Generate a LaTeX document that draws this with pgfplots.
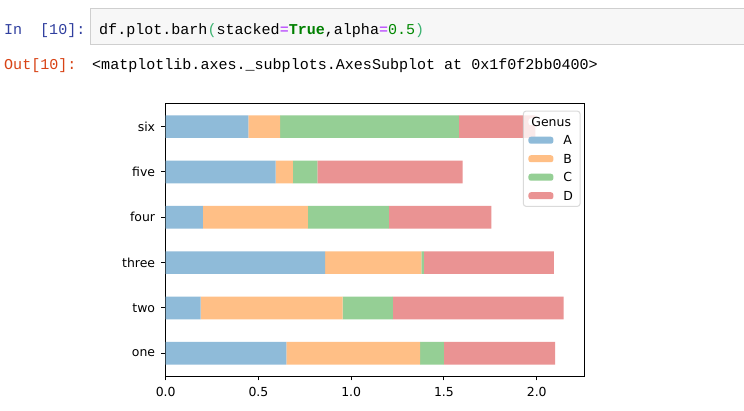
\documentclass[border=0pt]{standalone}
\usepackage{fontspec}
\usepackage{pgfplots}
\pgfplotsset{compat=1.18}
\setmainfont{DejaVu Sans}
\newfontfamily\nbmono{Liberation Mono}
\newfontfamily\dvs{DejaVu Sans}
\definecolor{cA}{HTML}{8FBBD9}
\definecolor{cB}{HTML}{FFBF86}
\definecolor{cC}{HTML}{95CF95}
\definecolor{cD}{HTML}{EA9393}
\definecolor{inprompt}{HTML}{303F9F}
\definecolor{outprompt}{HTML}{D84315}
\definecolor{kwgreen}{HTML}{008000}
\definecolor{oppurple}{HTML}{AA22FF}
\definecolor{numgreen}{HTML}{008800}
\definecolor{brgreen}{HTML}{3CB371}
\definecolor{cellbg}{HTML}{F7F7F7}
\definecolor{cellbd}{HTML}{CFCFCF}
\newcommand\nbf{\nbmono\fontsize{15.1}{18}\selectfont}
\newcommand\chf{\dvs\fontsize{12.5}{15}\selectfont}
\pgfplotsset{mylegend/.style={legend image code/.code={\fill[fill opacity=1,##1] (0bp,-3.5bp) rectangle (25bp,3.5bp);}}}
\begin{document}
\begin{tikzpicture}
\useasboundingbox (0bp,0bp) rectangle (744bp,411bp);
\fill[white] (0bp,0bp) rectangle (744bp,411bp);
\filldraw[fill=cellbg, draw=cellbd, line width=1bp] (90.5bp,402.5bp) rectangle (760bp,366bp);
\node[anchor=base west, inner sep=0pt, text=inprompt, font=\nbf] at (4bp,376bp) {In};
\node[anchor=base west, inner sep=0pt, text=inprompt, font=\nbf] at (40bp,376bp) {[10]:};
\node[anchor=base west, inner sep=0pt, text=black, font=\nbf] at (99bp,376bp) {df.plot.barh\textcolor{brgreen}{(}stacked\textcolor{oppurple}{=}\textcolor{kwgreen}{\bfseries True},alpha\textcolor{oppurple}{=}\textcolor{numgreen}{0.5}\textcolor{brgreen}{)}};
\node[anchor=base west, inner sep=0pt, text=outprompt, font=\nbf] at (4bp,341bp) {Out[10]:};
\node[anchor=base west, inner sep=0pt, text=black, font=\nbf] at (92bp,341bp) {<matplotlib.axes.\_subplots.AxesSubplot at 0x1f0f2bb0400>};
\begin{axis}[
  at={(165.7bp,35bp)}, anchor=south west,
  width=418.8bp, height=272bp, scale only axis,
  xbar stacked, bar width=0.5, bar shift=0pt,
  every axis plot post/.append style={mylegend},
  xmin=0, xmax=2.2575, ymin=-0.5, ymax=5.5,
  xtick={0,0.5,1,1.5,2}, xticklabels={0.0,0.5,1.0,1.5,2.0},
  ytick={0,1,2,3,4,5}, yticklabels={one,two,three,four,five,six},
  tick align=outside, xtick pos=left, ytick pos=left,
  major tick length=4.4bp,
  tick style={black, line width=1bp},
  axis line style={black, line width=1bp},
  tick label style={font=\chf, inner sep=0pt},
  xticklabel style={yshift=-6.5bp},
  yticklabel style={xshift=-6bp},
  legend style={at={(1,1)}, anchor=north east, xshift=-4bp, yshift=-6.7bp,
    draw=black!18, line width=1bp, rounded corners=2.5bp, fill=white,
    fill opacity=0.8, draw opacity=0.8, text opacity=1,
    inner xsep=5bp, inner ysep=6bp, row sep=9.4bp, column sep=10bp,
    font=\chf, nodes={inner sep=0pt, text height=9.1bp, text depth=0bp, anchor=west}},
  legend cell align=left,
]
\addlegendimage{draw=none, fill=white, fill opacity=0}
\addlegendentry{\hspace*{-32bp}Genus\hspace*{4bp}}
\addplot[fill=cA, draw=none] coordinates {(0.651,0) (0.188,1) (0.859,2) (0.201,3) (0.592,4) (0.445,5)};
\addlegendentry{A}
\addplot[fill=cB, draw=none] coordinates {(0.721,0) (0.766,1) (0.519,2) (0.565,3) (0.093,4) (0.172,5)};
\addlegendentry{B}
\addplot[fill=cC, draw=none] coordinates {(0.127,0) (0.271,1) (0.014,2) (0.437,3) (0.133,4) (0.963,5)};
\addlegendentry{C}
\addplot[fill=cD, draw=none] coordinates {(0.600,0) (0.920,1) (0.700,2) (0.552,3) (0.782,4) (0.413,5)};
\addlegendentry{D}
\end{axis}
\end{tikzpicture}
\end{document}
